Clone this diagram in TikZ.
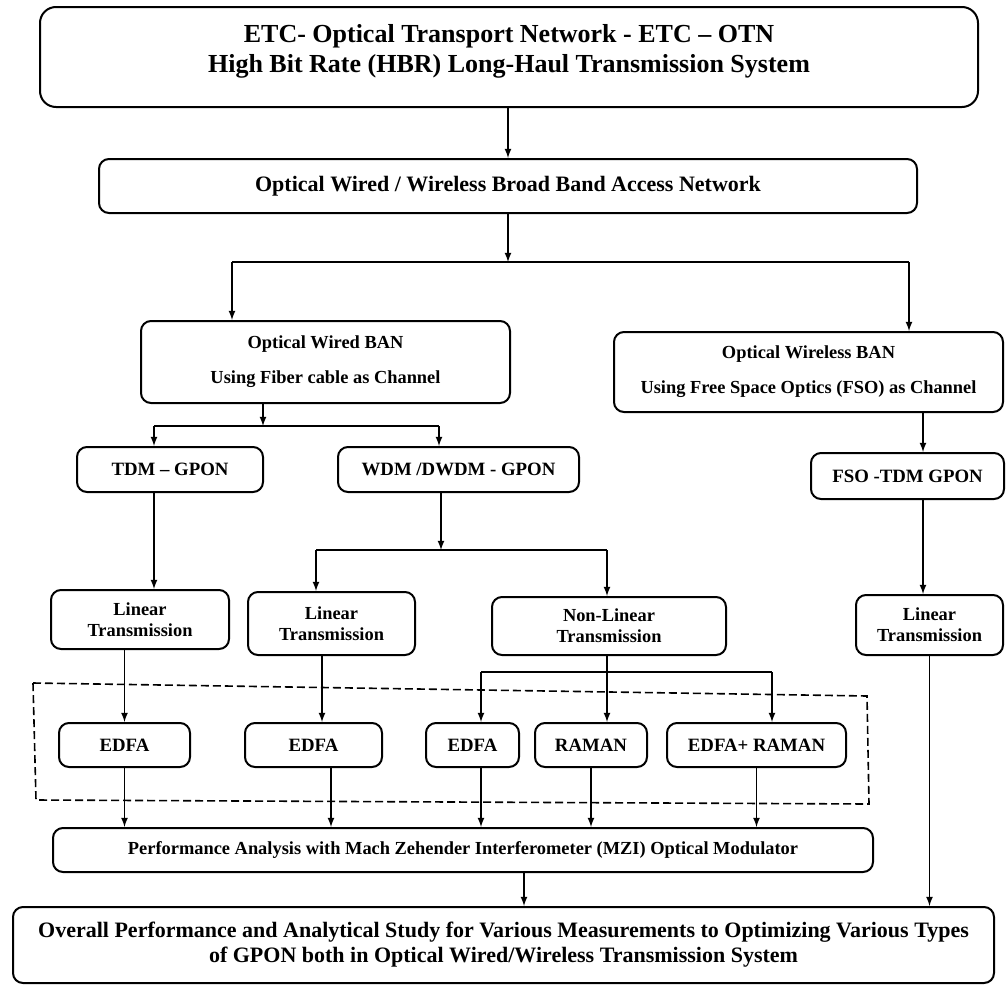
\documentclass[tikz,border=0pt]{standalone}
\usepackage{fontspec}
\setmainfont{Liberation Serif}
\begin{document}
\begin{tikzpicture}[x=0.5pt, y=-0.5pt, >=latex,
    blk/.style={draw, line width=1pt, rounded corners=5pt, align=center, inner sep=2pt},
    fA/.style={font=\bfseries\fontsize{13}{15}\selectfont},
    fB/.style={font=\bfseries\fontsize{11}{12.5}\selectfont},
    fC/.style={font=\bfseries\fontsize{9.2}{10.5}\selectfont},
    fD/.style={font=\bfseries\fontsize{9.4}{11}\selectfont},
    ln/.style={line width=0.6pt}]
    \useasboundingbox (0,0) rectangle (1006,985);

    % (a) top levels
    \node[blk, rounded corners=8pt, minimum width=469pt, minimum height=50pt] (etc) at (509,57) {};
    \node[fA, align=center] (etcT) at (509,51) {ETC- Optical Transport Network - ETC – OTN\\High Bit Rate (HBR) Long-Haul Transmission System};
    \node[blk, fB, minimum width=409pt, minimum height=27pt] (ban) at (508,186) {Optical Wired / Wireless Broad Band Access Network};

    \node[blk, fC, minimum width=184.5pt, minimum height=41pt] (wired) at (325.5,362) {Optical Wired BAN\\[7pt]Using Fiber cable as Channel};
    \node[blk, fC, minimum width=194.5pt, minimum height=40pt] (wless) at (808.5,372) {Optical Wireless BAN\\[7pt]Using Free Space Optics (FSO) as Channel};

    \node[blk, fD, minimum width=93pt, minimum height=22.5pt] (tdm) at (170,469.5) {TDM – GPON};
    \node[blk, fD, minimum width=120.5pt, minimum height=22.5pt] (wdm) at (458.5,469.5) {WDM /DWDM - GPON};
    \node[blk, fD, minimum width=96.5pt, minimum height=23pt] (fso) at (907.5,476) {FSO -TDM GPON};

    \node[blk, fC, minimum width=89pt, minimum height=29.5pt] (lin1) at (140,619.5) {Linear\\Transmission};
    \node[blk, fC, minimum width=83.5pt, minimum height=31.5pt] (lin2) at (331.5,623.5) {Linear\\Transmission};
    \node[blk, fC, minimum width=117pt, minimum height=29pt] (nonlin) at (609,626) {Non-Linear\\Transmission};
    \node[blk, fC, minimum width=73.5pt, minimum height=30pt] (lin4) at (929.5,625) {Linear\\Transmission};

    % (b) amplifiers
    \draw[line width=0.8pt, dash pattern=on 4pt off 2pt] (33,683) -- (867,696) -- (869,804) -- (36,800) -- cycle;
    \node[blk, fD, minimum width=65.5pt, minimum height=22pt] (edfa1) at (124.5,745) {EDFA};
    \node[blk, fD, minimum width=68.5pt, minimum height=22pt] (edfa2) at (313.5,745) {EDFA};
    \node[blk, fD, minimum width=46.5pt, minimum height=22pt] (edfa3) at (472.5,745) {EDFA};
    \node[blk, fD, minimum width=56pt, minimum height=22pt] (raman) at (591,745) {RAMAN};
    \node[blk, fD, minimum width=89.5pt, minimum height=22pt] (edram) at (756.5,745) {EDFA+ RAMAN};

    \node[blk, fC, minimum width=410pt, minimum height=22pt] (perf) at (463,850) {Performance Analysis with Mach Zehender Interferometer (MZI) Optical Modulator};
    \node[blk, fB, minimum width=490.5pt, minimum height=38pt] (overall) at (503.5,945) {Overall Performance and Analytical Study for Various Measurements to Optimizing Various Types\\of GPON both in Optical Wired/Wireless Transmission System};

    % junctions
    \coordinate (j1) at (508,262);  \coordinate (j1l) at (232,262); \coordinate (j1r) at (909,262);
    \coordinate (j2) at (263,426);  \coordinate (j2l) at (154,426); \coordinate (j2r) at (439,426);
    \coordinate (j3) at (441,550);  \coordinate (j3l) at (316,550); \coordinate (j3r) at (607,550);
    \coordinate (j4) at (607,672);  \coordinate (j4l) at (481,672); \coordinate (j4r) at (772,672);

    % connectors
    \draw[ln,->] (etc.south -| ban.north) -- (ban.north);
    \draw[ln,->] (ban.south) -- (j1);
    \draw[ln] (j1l) -- (j1r);
    \draw[ln,->] (j1l) -- (j1l |- wired.north);
    \draw[ln,->] (j1r) -- (j1r |- wless.north);

    \draw[ln,->] (j2 |- wired.south) -- (j2);
    \draw[ln] (j2l) -- (j2r);
    \draw[ln,->] (j2l) -- (j2l |- tdm.north);
    \draw[ln,->] (j2r) -- (j2r |- wdm.north);
    \draw[ln,->] ([xshift=7.75pt]fso.north |- wless.south) -- ([xshift=7.75pt]fso.north);

    \draw[ln,->] (j2l |- tdm.south) -- (j2l |- lin1.north);
    \draw[ln,->] (j3 |- wdm.south) -- (j3);
    \draw[ln] (j3l) -- (j3r);
    \draw[ln,->] (j3l) -- (j3l |- lin2.north);
    \draw[ln,->] (j3r) -- (j3r |- nonlin.north);
    \draw[ln,->] ([xshift=7.75pt]fso.south) -- ([xshift=7.75pt]fso.south |- lin4.north);

    \draw[ln,->] (edfa1.north |- lin1.south) -- (edfa1.north);
    \draw[ln,->] ([xshift=4.25pt]edfa2.north |- lin2.south) -- ([xshift=4.25pt]edfa2.north);
    \draw[ln,->] (j4 |- nonlin.south) -- (j4 |- raman.north);
    \draw[ln] (j4l) -- (j4r);
    \draw[ln,->] (j4l) -- (j4l |- edfa3.north);
    \draw[ln,->] (j4r) -- (j4r |- edram.north);

    \draw[ln,->] (edfa1.south) -- (edfa1.south |- perf.north);
    \draw[ln,->] ([xshift=8.75pt]edfa2.south) -- ([xshift=8.75pt]edfa2.south |- perf.north);
    \draw[ln,->] (j4l |- edfa3.south) -- (j4l |- perf.north);
    \draw[ln,->] (raman.south) -- (raman.south |- perf.north);
    \draw[ln,->] (edram.south) -- (edram.south |- perf.north);

    \draw[ln,->] ([xshift=30.5pt]perf.south) -- ([xshift=30.5pt]perf.south |- overall.north);
    \draw[ln,->] (lin4.south) -- (lin4.south |- overall.north);
\end{tikzpicture}
\end{document}
